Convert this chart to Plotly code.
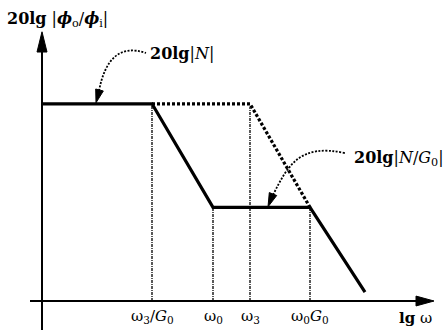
import plotly.graph_objects as go

# Break frequencies on the lg ω axis
break_names = ["ω<sub>3</sub>/<i>G</i><sub>0</sub>", "ω<sub>0</sub>", "ω<sub>3</sub>", "ω<sub>0</sub><i>G</i><sub>0</sub>"]
break_lgw = [1.10, 1.71, 2.08, 2.68]

# Asymptotic magnitude levels (dB)
level_N = 40.0        # 20lg|N| plateau
level_NG0 = 19.0      # 20lg|N/G0| plateau

# Solid curve: compensated response 20lg|N/G0|
solid_x = [0.0, 1.10, 1.71, 2.68, 3.23]
solid_y = [40.0, 40.0, 19.0, 19.0, 1.8]

# Dotted curve: uncompensated 20lg|N|
dotted_x = [1.10, 2.08, 2.68]
dotted_y = [40.0, 40.0, 19.0]

# Top of each vertical guide
guide_top = [40.0, 19.0, 39.4, 19.0]

SERIF = "DejaVu Serif, Liberation Serif, serif"

fig = go.Figure()

fig.add_trace(go.Scatter(x=dotted_x, y=dotted_y, mode="lines",
                         line=dict(color="black", width=3.2, dash="3px,2px"),
                         hoverinfo="skip"))
fig.add_trace(go.Scatter(x=solid_x, y=solid_y, mode="lines",
                         line=dict(color="black", width=3.2),
                         hoverinfo="skip"))

shapes = []
# vertical guides
for x, top in zip(break_lgw, guide_top):
    shapes.append(dict(type="line", x0=x, x1=x, y0=0, y1=top, xref="x", yref="y",
                       line=dict(color="black", width=1.3, dash="3px,1px,1px,1px")))
# axes
shapes.append(dict(type="line", x0=0, x1=0, y0=-5.9, y1=51.0, xref="x", yref="y",
                   line=dict(color="black", width=2)))
shapes.append(dict(type="line", x0=-0.12, x1=3.76, y0=0, y1=0, xref="x", yref="y",
                   line=dict(color="black", width=2)))
# axis arrowheads
shapes.append(dict(type="path", path="M 0 54.6 L -0.05 50.5 L 0.05 50.5 Z",
                   xref="x", yref="y", fillcolor="black", line=dict(color="black", width=1)))
shapes.append(dict(type="path", path="M 3.92 0 L 3.74 1.0 L 3.74 -1.0 Z",
                   xref="x", yref="y", fillcolor="black", line=dict(color="black", width=1)))
# callout for 20lg|N|
shapes.append(dict(type="path", path="M 0.57 42.6 C 0.63 49.1, 0.78 52.1, 1.04 50.3",
                   xref="x", yref="y", line=dict(color="black", width=1.8, dash="2px,1.5px")))
shapes.append(dict(type="path", path="M 0.54 40.2 L 0.613 42.6 L 0.537 43.0 Z",
                   xref="x", yref="y", fillcolor="black", line=dict(color="black", width=1)))
# callout for 20lg|N/G0|
shapes.append(dict(type="path", path="M 2.31 21.5 C 2.46 27.6, 2.58 32.0, 3.03 30.0",
                   xref="x", yref="y", line=dict(color="black", width=1.8, dash="2px,1.5px")))
shapes.append(dict(type="path", path="M 2.26 19.1 L 2.347 21.4 L 2.273 21.99 Z",
                   xref="x", yref="y", fillcolor="black", line=dict(color="black", width=1)))

annotations = []
tick_font = dict(family=SERIF, size=15, color="black")
label_font = dict(family=SERIF, size=16, color="black")
for name, x in zip(break_names, break_lgw):
    annotations.append(dict(x=x, y=-3.1, text=name, showarrow=False, xref="x", yref="y",
                            xanchor="center", yanchor="middle", font=tick_font))
annotations.append(dict(x=3.73, y=-3.4, text="<b>lg</b> ω", showarrow=False, xref="x", yref="y",
                        xanchor="center", yanchor="middle", font=tick_font))
annotations.append(dict(x=-0.37, y=57.0,
                        text="<b>20lg</b> |<b><i>ϕ</i></b><sub>o</sub>/<b><i>ϕ</i></b><sub>i</sub>|",
                        showarrow=False, xref="x", yref="y", xanchor="left", yanchor="middle", font=label_font))
annotations.append(dict(x=1.06, y=50.3, text="<b>20lg</b>|<i>N</i>|",
                        showarrow=False, xref="x", yref="y", xanchor="left", yanchor="middle", font=label_font))
annotations.append(dict(x=3.10, y=29.0, text="<b>20lg</b>|<i>N</i>/<i>G</i><sub>0</sub>|",
                        showarrow=False, xref="x", yref="y", xanchor="left", yanchor="middle", font=label_font))

fig.update_layout(
    width=444, height=334,
    margin=dict(l=0, r=0, t=0, b=0),
    paper_bgcolor="white", plot_bgcolor="white",
    showlegend=False,
    xaxis=dict(range=[-0.42, 4.02], visible=False, fixedrange=True),
    yaxis=dict(range=[-6.69, 61.05], visible=False, fixedrange=True),
    shapes=shapes, annotations=annotations,
)

fig.write_html("out.html")
